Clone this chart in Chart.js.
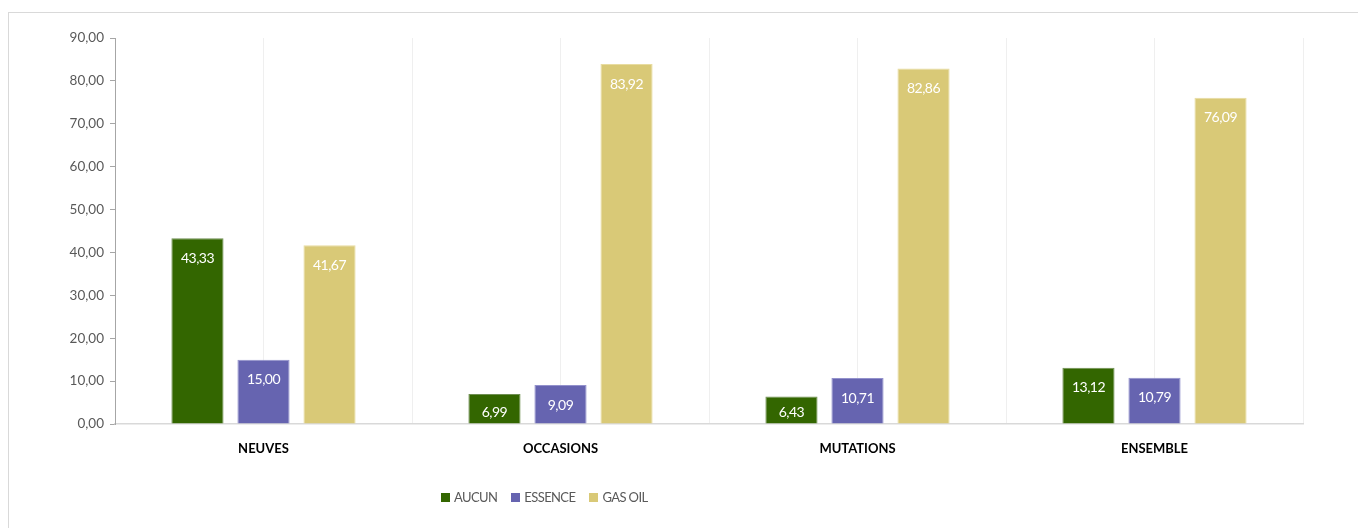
<!DOCTYPE html>
<html>
<head>
<meta charset="utf-8">
<script src="https://cdn.jsdelivr.net/npm/chart.js@4/dist/chart.umd.min.js"></script>
<style>
  html, body { margin: 0; padding: 0; background: #fff; }
  body { width: 1358px; height: 528px; position: relative; overflow: hidden; }
  .cadre { position: absolute; left: 8px; top: 12px; width: 1400px; height: 600px; border: 1px solid #d9d9d9; }
  #graphique { position: absolute; left: 0; top: 0; }
  .legende { position: absolute; left: 441px; top: 489px; display: flex; font: 13px Lato, sans-serif; letter-spacing: -0.6px; color: #595959; }
  .legende span { display: flex; align-items: center; margin-right: 14px; }
  .legende i { display: inline-block; width: 9px; height: 9px; margin-right: 4px; }
</style>
</head>
<body>
<div class="cadre"></div>
<canvas id="graphique" width="1358" height="528"></canvas>
<div class="legende" id="legende"></div>
<script>
// données du graphique
const categories = ['NEUVES', 'OCCASIONS', 'MUTATIONS', 'ENSEMBLE'];
const series = ['AUCUN', 'ESSENCE', 'GAS OIL'];
const aucun = [43.33, 6.99, 6.43, 13.12];
const essence = [15.00, 9.09, 10.71, 10.79];
const gasoil = [41.67, 83.92, 82.86, 76.09];
const couleurs = ['#336600', '#6664b0', '#d9c977'];
const bordures = ['#6f8f52', '#9391cc', '#e8dca0'];

const valeurs = [aucun, essence, gasoil];
const virgule = v => v.toFixed(2).replace('.', ',');

//#region Etiquettes blanches dans les barres
const etiquettes = {
  id: 'etiquettes',
  afterDatasetsDraw(chart) {
    const ctx = chart.ctx;
    ctx.save();
    ctx.fillStyle = '#ffffff';
    ctx.font = '14px Lato, sans-serif';
    ctx.letterSpacing = '-0.5px';
    ctx.textAlign = 'center';
    ctx.textBaseline = 'middle';
    chart.data.datasets.forEach((ds, i) => {
      chart.getDatasetMeta(i).data.forEach((bar, j) => {
        const y = Math.min(bar.y + 20, bar.base - 11);
        ctx.fillText(virgule(ds.data[j]), bar.x, y);
      });
    });
    ctx.restore();
  }
};
//#endregion

new Chart(document.getElementById('graphique'), {
  type: 'bar',
  data: {
    labels: categories,
    datasets: series.map((nom, i) => ({
      label: nom,
      data: valeurs[i],
      backgroundColor: couleurs[i],
      borderColor: bordures[i],
      borderWidth: 1,
      xAxisID: 'x',
      barPercentage: 0.79,
      categoryPercentage: 0.667
    }))
  },
  options: {
    responsive: false,
    animation: false,
    layout: { padding: { left: 0, right: 55, top: 38, bottom: 0 } },
    plugins: { legend: { display: false }, tooltip: { enabled: false } },
    scales: {
      x: {
        type: 'category',
        offset: true,
        grid: { offset: true, color: '#efefef', drawTicks: false },
        border: { color: '#d9d9d9', width: 1.5 },
        ticks: { color: '#000000', font: { family: 'Lato', size: 13, weight: 'bold' }, padding: 17 },
        afterFit: s => { s.height = 104; }
      },
      xc: {
        type: 'category',
        position: 'bottom',
        labels: categories,
        offset: true,
        grid: { offset: false, color: '#efefef', drawTicks: false },
        border: { display: false },
        ticks: { display: false },
        afterFit: s => { s.height = 0; }
      },
      y: {
        min: 0,
        max: 90,
        ticks: { stepSize: 10, color: '#595959', font: { family: 'Lato', size: 13.5 }, padding: 6, callback: v => virgule(v) },
        grid: { drawOnChartArea: false, drawTicks: true, tickLength: 5, color: '#a6a6a6' },
        border: { color: '#a6a6a6' },
        afterFit: s => { s.width = 115; }
      }
    }
  },
  plugins: [etiquettes]
});

// légende en bas
const legende = document.getElementById('legende');
series.forEach((nom, i) => {
  const item = document.createElement('span');
  item.innerHTML = '<i style="background:' + couleurs[i] + '"></i>' + nom;
  legende.appendChild(item);
});
</script>
</body>
</html>
